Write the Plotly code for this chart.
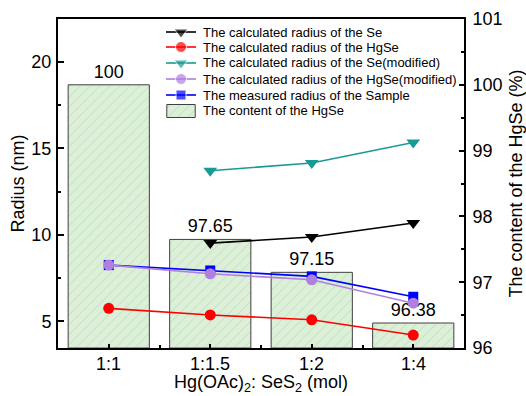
import plotly.graph_objects as go

categories = ["1:1", "1:1.5", "1:2", "1:4"]
hgse_content = [100, 97.65, 97.15, 96.38]
r_se = [None, 9.52, 9.87, 10.68]
r_hgse = [5.75, 5.37, 5.09, 4.21]
r_se_mod = [None, 13.7, 14.15, 15.33]
r_hgse_mod = [8.25, 7.75, 7.4, 6.05]
r_measured = [8.25, 7.94, 7.6, 6.42]

FONT = "Liberation Sans, Arial, sans-serif"
xpos = list(range(len(categories)))

BAR_FILL = "#ddefd8"
HATCH = "#86cf8c"
BAR_EDGE = "#404040"

series = [
    ("The calculated radius of the Se", r_se, "black", "triangle-down", 12),
    ("The calculated radius of the HgSe", r_hgse, "red", "circle", 11),
    ("The calculated radius of the Se(modified)", r_se_mod, "#1a9a96", "triangle-down", 12),
    ("The calculated radius of the HgSe(modified)", r_hgse_mod, "#b07fe0", "circle", 11),
    ("The measured radius of the Sample", r_measured, "blue", "square", 10),
]
bar_name = "The content of the HgSe"

fig = go.Figure()

# Bars: HgSe content on the right-hand scale, drawn beneath the radius lines
fig.add_trace(go.Bar(
    x=xpos, y=[v - 96 for v in hgse_content], base=96,
    width=0.8, xaxis="x", yaxis="y",
    text=[f"{v:g}" for v in hgse_content], textposition="outside",
    textfont=dict(size=18, color="black", family=FONT),
    cliponaxis=False, showlegend=False, hoverinfo="skip",
    marker=dict(color=BAR_FILL, line=dict(color=BAR_EDGE, width=1),
                pattern=dict(shape="/", fgcolor=HATCH, bgcolor=BAR_FILL,
                             size=7, solidity=0.12)),
))

# Radius lines (left-hand scale); measured drawn before modified HgSe
draw_order = [0, 1, 2, 4, 3]
for i in draw_order:
    name, vals, color, symbol, size = series[i]
    fig.add_trace(go.Scatter(
        x=xpos, y=vals, xaxis="x", yaxis="y2", mode="lines+markers",
        line=dict(color=color, width=1.6),
        marker=dict(color=color, symbol=symbol, size=size),
        showlegend=False, connectgaps=False, name=name,
    ))

# Legend block, drawn on a hidden unit overlay (x2 / y3)
leg_x0, leg_x1, leg_text_x = 0.266, 0.340, 0.352
leg_rows = [0.9605, 0.9149, 0.8663, 0.8176, 0.7690]
for (name, _vals, color, symbol, size), yy in zip(series, leg_rows):
    fig.add_trace(go.Scatter(
        x=[leg_x0, (leg_x0 + leg_x1) / 2, leg_x1], y=[yy, yy, yy],
        xaxis="x2", yaxis="y3", mode="lines+markers",
        line=dict(color=color, width=1.6),
        marker=dict(color=color, symbol=symbol, size=[0, size, 0]),
        showlegend=False, hoverinfo="skip",
    ))
    fig.add_annotation(x=leg_text_x, y=yy, xref="x2", yref="y3", text=name,
                       showarrow=False, xanchor="left", yanchor="middle",
                       font=dict(size=13, family=FONT, color="black"))

bar_row = 0.7204
fig.add_trace(go.Bar(
    x=[(leg_x0 + leg_x1) / 2], y=[0.0395], base=bar_row - 0.0198,
    width=leg_x1 - leg_x0 - 0.004, xaxis="x2", yaxis="y3",
    showlegend=False, hoverinfo="skip",
    marker=dict(color=BAR_FILL, line=dict(color=BAR_EDGE, width=1),
                pattern=dict(shape="/", fgcolor=HATCH, bgcolor=BAR_FILL,
                             size=7, solidity=0.12)),
))
fig.add_annotation(x=leg_text_x, y=bar_row, xref="x2", yref="y3", text=bar_name,
                   showarrow=False, xanchor="left", yanchor="middle",
                   font=dict(size=13, family=FONT, color="black"))

# Category labels and x-axis title, placed just below the plot frame
for xi, label in zip(xpos, categories):
    fig.add_annotation(x=xi, y=-0.0486, xref="x", yref="paper", text=label,
                       showarrow=False, xanchor="center", yanchor="middle",
                       font=dict(size=18, family=FONT, color="black"))
fig.add_annotation(x=0.5, y=-0.108, xref="paper", yref="paper",
                   text="Hg(OAc)<sub>2</sub>: SeS<sub>2</sub> (mol)",
                   showarrow=False, xanchor="center", yanchor="middle",
                   font=dict(size=18, family=FONT, color="black"))

axis_common = dict(showline=True, linecolor="black", linewidth=2,
                   showgrid=False, zeroline=False, automargin=False,
                   tickcolor="black", tickwidth=1.5,
                   tickfont=dict(size=18, family=FONT))

fig.update_layout(
    width=526, height=396,
    margin=dict(l=58, r=62, t=19, b=48, autoexpand=False),
    paper_bgcolor="white", plot_bgcolor="white",
    font=dict(family=FONT, size=18, color="black"),
    showlegend=False,
    xaxis=dict(
        range=[-0.5, 3.5], tickvals=xpos, showticklabels=False,
        mirror=True, ticks="inside", ticklen=4,
        minor=dict(tickvals=[0.5, 1.5, 2.5], ticks="inside", ticklen=3,
                   tickcolor="black", tickwidth=1.5),
        **axis_common,
    ),
    yaxis=dict(
        side="right", range=[96, 101], dtick=1,
        mirror=True, ticks="inside", ticklen=5,
        minor=dict(dtick=0.5, ticks="inside", ticklen=3,
                   tickcolor="black", tickwidth=1.5),
        ticklabelstandoff=3,
        title=dict(text="The content of the HgSe (%)", font=dict(size=18), standoff=14),
        **axis_common,
    ),
    yaxis2=dict(
        overlaying="y", side="left", range=[3.46, 22.47], dtick=5, tick0=0,
        ticks="inside", ticklen=6,
        minor=dict(dtick=2.5, ticks="inside", ticklen=3,
                   tickcolor="black", tickwidth=1.5),
        ticklabelstandoff=1,
        title=dict(text="Radius (nm)", font=dict(size=18), standoff=2),
        **axis_common,
    ),
    xaxis2=dict(overlaying="x", range=[0, 1], visible=False, fixedrange=True),
    yaxis3=dict(overlaying="y", range=[0, 1], visible=False, fixedrange=True),
)

fig.write_html("out.html")
